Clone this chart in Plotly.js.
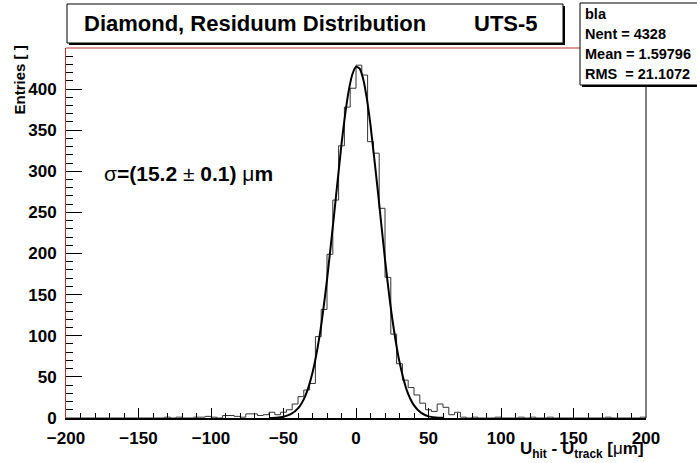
<!DOCTYPE html>
<html><head><meta charset="utf-8">
<script src="https://cdn.plot.ly/plotly-3.0.1.min.js"></script>
<style>body{margin:0;background:#fff}#chart{width:697px;height:463px}</style>
</head><body><div id="chart"></div>
<script>
// ---- data ----
const BIN_START = -200;
const BIN_WIDTH = 4;
// 100 bins from -200 to 200
const counts = [
  0,0,0,0,0,0,0,0,0,0,
  0,0,0,0,0,0,0,1,0,1,
  0,0,1,1,2,1,0,3,3,2,
  1,5,5,3,4,7,4,7,10,17,
  26,34,42,99,132,199,265,331,378,401,
  429,417,336,322,255,171,102,66,46,37,
  28,18,10,8,17,13,4,7,1,0,
  1,0,0,0,1,0,0,0,1,0,
  1,0,0,1,0,0,0,0,0,0,
  0,0,0,1,0,0,0,0,0,1
];
// Gaussian fit curve
const fitX = [-60,-55,-50,-45,-40,-35,-30,-25,-20,-15,-10,-7.5,-5,-2.5,0,2.5,5,7.5,10,15,20,25,30,35,40,45,50,55,60];
const fitY = [0.1,0.4,1.6,4.6,11.7,26.7,55,101,168,249,333,369,398,418,427,425,412,388,356,277,193,121,68,34,15.4,6.2,2,0.7,0.2];
const titleLeft = 'Diamond, Residuum Distribution';
const titleRight = 'UTS-5';
const statsLines = ['bla', 'Nent = 4328', 'Mean = 1.59796', 'RMS  = 21.1072'];
const sigmaText = '<span style="font-weight:normal">σ</span>=(15.2 <span style="font-weight:normal">±</span> 0.1) <span style="font-weight:normal">μ</span>m';
const xTitle = 'U<sub>hit</sub> - U<sub>track</sub> [<span style="font-weight:normal">μ</span>m]';
const yTitle = 'Entries [ ]';

// ---- layout geometry (pixels) ----
const L = 66, R = 646, T = 48, B = 418;
const W = 697, H = 463;
const px = v => (v - L) / (R - L);
const py = v => (B - v) / (B - T);

// histogram outline
const hx = [BIN_START], hy = [0];
for (let i = 0; i < counts.length; i++) {
  const x0 = BIN_START + i * BIN_WIDTH;
  hx.push(x0, x0 + BIN_WIDTH);
  hy.push(counts[i], counts[i]);
}
hx.push(BIN_START + counts.length * BIN_WIDTH); hy.push(0);

const FONT = 'Liberation Sans, Arial, Helvetica, sans-serif';

const traces = [
  {x: hx, y: hy, type: 'scatter', mode: 'lines', line: {color: '#333', width: 1}, hoverinfo: 'skip'},
  {x: fitX, y: fitY, type: 'scatter', mode: 'lines', line: {color: '#000', width: 2, shape: 'spline', smoothing: 0.6}, hoverinfo: 'skip'}
];

const shapes = [
  // frame top (red) and right (black)
  {type: 'line', layer: 'below', xref: 'paper', yref: 'paper', x0: 0, x1: 1, y0: 1, y1: 1, line: {color: '#c03030', width: 1}},
  {type: 'line', xref: 'paper', yref: 'paper', x0: 1, x1: 1, y0: 0, y1: 1, line: {color: '#000', width: 1}},
  // title box shadow + box
  {type: 'rect', xref: 'paper', yref: 'paper', x0: px(69), x1: px(565), y0: py(45), y1: py(6), fillcolor: '#000', line: {width: 0}},
  {type: 'rect', xref: 'paper', yref: 'paper', x0: px(67), x1: px(563), y0: py(43), y1: py(4), fillcolor: '#fff', line: {color: '#000', width: 1}},
  // stats box shadow + box
  {type: 'rect', xref: 'paper', yref: 'paper', x0: px(582), x1: px(705), y0: py(87), y1: py(5), fillcolor: '#000', line: {width: 0}},
  {type: 'rect', xref: 'paper', yref: 'paper', x0: px(580), x1: px(703), y0: py(85), y1: py(3), fillcolor: '#fff', line: {color: '#000', width: 1}}
];

const annotations = [
  {xref: 'paper', yref: 'paper', x: px(82), y: py(23), xanchor: 'left', yanchor: 'middle', text: titleLeft, showarrow: false,
   font: {family: FONT, size: 22, weight: 'bold', color: '#000'}},
  {xref: 'paper', yref: 'paper', x: px(540), y: py(23), xanchor: 'right', yanchor: 'middle', text: titleRight, showarrow: false,
   font: {family: FONT, size: 22, weight: 'bold', color: '#000'}},
  {xref: 'paper', yref: 'paper', x: px(102), y: py(173), xanchor: 'left', yanchor: 'middle', text: sigmaText, showarrow: false,
   font: {family: FONT, size: 21, weight: 'bold', color: '#000'}},
  {xref: 'paper', yref: 'paper', x: 1, y: py(450), xanchor: 'right', yanchor: 'middle', text: xTitle, showarrow: false,
   font: {family: FONT, size: 17, weight: 'bold', color: '#000'}},
  {xref: 'paper', yref: 'paper', x: px(19), y: py(44), xanchor: 'center', yanchor: 'top', text: yTitle, textangle: -90, showarrow: false,
   font: {family: FONT, size: 15, weight: 'bold', color: '#000'}}
];
statsLines.forEach((s, i) => {
  annotations.push({xref: 'paper', yref: 'paper', x: px(583), y: py(14 + i * 20), xanchor: 'left', yanchor: 'middle',
    text: s.replace(/  /g, '&nbsp; '), showarrow: false, font: {family: FONT, size: 14.5, weight: 'bold', color: '#000'}});
});

const layout = {
  width: W, height: H,
  margin: {l: L, r: W - R, t: T, b: H - B, pad: 0},
  paper_bgcolor: '#fff', plot_bgcolor: '#fff',
  showlegend: false,
  xaxis: {
    range: [-200, 200], tickmode: 'linear', tick0: -200, dtick: 50,
    ticks: 'inside', ticklen: 10, tickwidth: 1, tickcolor: '#000',
    minor: {dtick: 10, tick0: -200, ticks: 'inside', ticklen: 5, tickwidth: 1, tickcolor: '#000', showgrid: false},
    showline: true, linecolor: '#000', linewidth: 2,
    showgrid: false, zeroline: false, fixedrange: true,
    tickfont: {family: FONT, size: 17, weight: 'bold', color: '#000'},
    ticklabelstandoff: 4
  },
  yaxis: {
    range: [0, 449.9], tickmode: 'linear', tick0: 0, dtick: 50,
    ticks: 'inside', ticklen: 16, tickwidth: 1, tickcolor: '#000',
    minor: {dtick: 10, tick0: 0, ticks: 'inside', ticklen: 7, tickwidth: 1, tickcolor: '#000', showgrid: false},
    showline: true, linecolor: '#c03030', linewidth: 1,
    showgrid: false, zeroline: false, fixedrange: true,
    tickfont: {family: FONT, size: 17, weight: 'bold', color: '#000'},
    ticklabelstandoff: 5
  },
  shapes: shapes,
  annotations: annotations
};

Plotly.newPlot('chart', traces, layout, {staticPlot: true, displayModeBar: false});
</script>
</body></html>
